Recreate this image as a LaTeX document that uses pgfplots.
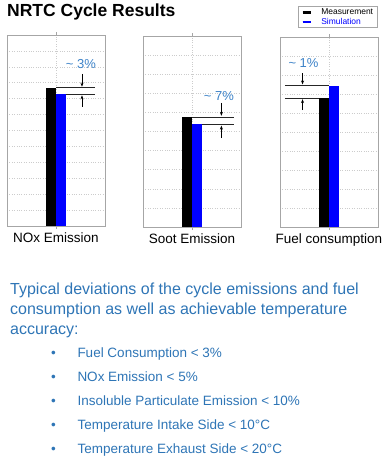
\documentclass[border=0pt]{standalone}
\usepackage{fontspec}
\setmainfont{Liberation Sans}
\usepackage{pgfplots}
\pgfplotsset{compat=1.18}
\usetikzlibrary{arrows.meta}
\definecolor{txtblue}{RGB}{46,117,182}
\definecolor{annblue}{RGB}{60,130,200}
\definecolor{simblue}{RGB}{0,0,255}
\tikzset{
  annline/.style={draw=gray!30!black, line width=0.8bp},
  annarrow/.style={draw=black, line width=0.6bp, -{Stealth[length=4bp, width=3bp]}},
  anntext/.style={text=annblue, font=\fontsize{13bp}{14bp}\selectfont},
}
\pgfplotsset{
  panel/.style={
    width=98bp, height=191bp, scale only axis,
    xmin=-1, xmax=1, ymin=0,
    xtick={0}, ytick distance=1, yticklabels={},
    grid=major, major grid style={dotted, gray!40, line width=0.6bp},
    axis line style={gray!70, line width=0.8bp},
    ytick style={draw=none},
    xtick style={draw=gray!70, line width=0.6bp},
    tick align=outside, major tick length=3bp,
    xticklabel style={font=\fontsize{13.5bp}{15bp}\selectfont, yshift=0bp},
    clip=false,
  },
  meas/.style={ybar, bar width=0.2, bar shift=0pt, fill=black, draw=none,
    legend image code/.code={\draw[black, line width=2.5bp] (0bp,0bp) -- (8bp,0bp);}},
  simu/.style={ybar, bar width=0.2, bar shift=0pt, fill=simblue, draw=none,
    legend image code/.code={\draw[simblue, line width=2.5bp] (0bp,0bp) -- (8bp,0bp);}},
}
\begin{document}
\begin{tikzpicture}
\useasboundingbox (0,0) rectangle (385bp,-465bp);
% title
\node[anchor=base west, inner sep=0pt, font=\fontsize{17.5bp}{19bp}\selectfont\bfseries] at (7bp,-16bp) {NRTC Cycle Results};

% Panel 1: NOx
\begin{axis}[panel, at={(7bp,-35bp)}, anchor=north west, ymax=12, xticklabels={NOx Emission}]
\addplot[meas] coordinates {(-0.1,8.69)};
\addplot[simu] coordinates {(0.1,8.27)};
\draw[annline] (axis cs:0,8.69) -- (axis cs:0.8,8.69);
\draw[annline] (axis cs:0.2,8.27) -- (axis cs:0.8,8.27);
\draw[annarrow] (axis cs:0.53,9.55) -- (axis cs:0.53,8.75);
\draw[annarrow] (axis cs:0.53,7.5) -- (axis cs:0.53,8.21);
\node[anntext] at (axis cs:0.51,10.2) {\char"007E\ 3\%};
\end{axis}

% Panel 2: Soot
\begin{axis}[panel, at={(143bp,-36bp)}, anchor=north west, ymax=10, xticklabels={Soot Emission}]
\addplot[meas] coordinates {(-0.1,5.76)};
\addplot[simu] coordinates {(0.1,5.37)};
\draw[annline] (axis cs:0,5.76) -- (axis cs:0.86,5.76);
\draw[annline] (axis cs:0.2,5.37) -- (axis cs:0.86,5.37);
\draw[annarrow] (axis cs:0.6,6.5) -- (axis cs:0.6,5.82);
\draw[annarrow] (axis cs:0.6,4.65) -- (axis cs:0.6,5.31);
\node[anntext] at (axis cs:0.55,6.86) {\char"007E\ 7\%};
\end{axis}

% Panel 3: Fuel
\begin{axis}[panel, at={(280bp,-37bp)}, anchor=north west, height=190bp, ymax=10, xticklabels={Fuel consumption},
  legend style={at={(1,1)}, anchor=south east, yshift=9bp, draw=gray!70, line width=0.8bp,
    font=\fontsize{8.5}{9}\selectfont, inner xsep=3bp, inner ysep=0.5bp, row sep=-1bp,
    nodes={inner sep=1.5bp}, /tikz/every odd column/.style={column sep=8bp}},
  legend cell align=left]
\addplot[meas] coordinates {(-0.1,6.79)};
\addlegendentry{Measurement}
\addplot[simu] coordinates {(0.1,7.44)};
\addlegendentry{\textcolor{simblue}{Simulation}}
\draw[annline] (axis cs:-0.9,7.44) -- (axis cs:0,7.44);
\draw[annline] (axis cs:-0.9,6.79) -- (axis cs:-0.2,6.79);
\draw[annarrow] (axis cs:-0.54,8.1) -- (axis cs:-0.54,7.5);
\draw[annarrow] (axis cs:-0.54,6.15) -- (axis cs:-0.54,6.73);
\node[anntext] at (axis cs:-0.52,8.65) {\char"007E\ 1\%};
\end{axis}

% paragraph
\begin{scope}[every node/.style={anchor=base west, inner sep=0pt, text=txtblue}]
\node[font=\fontsize{16bp}{18bp}\selectfont] at (10bp,-294.3bp) {Typical deviations of the cycle emissions and fuel};
\node[font=\fontsize{16bp}{18bp}\selectfont] at (10bp,-314.3bp) {consumption as well as achievable temperature};
\node[font=\fontsize{16bp}{18bp}\selectfont] at (10bp,-334.3bp) {accuracy:};
\foreach \t [count=\i from 0] in {Fuel Consumption < 3\%, NOx Emission < 5\%, Insoluble Particulate Emission < 10\%, Temperature Intake Side < 10°C, Temperature Exhaust Side < 20°C} {
  \node[font=\fontsize{13.5bp}{15bp}\selectfont] at (51bp,{-357.3bp-24bp*\i}) {•};
  \node[font=\fontsize{13.5bp}{15bp}\selectfont] at (77.3bp,{-357.3bp-24bp*\i}) {\t};
}
\end{scope}
\end{tikzpicture}
\end{document}
